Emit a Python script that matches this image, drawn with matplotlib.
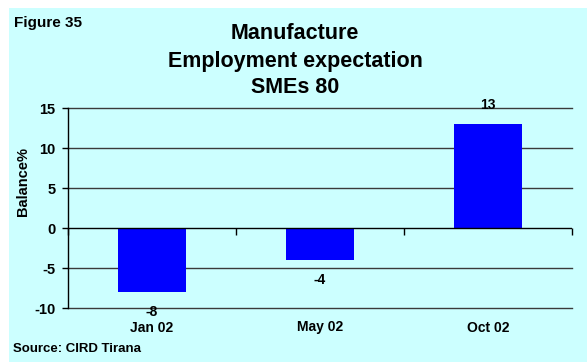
import matplotlib
matplotlib.use("Agg")
import matplotlib.pyplot as plt
import numpy as np
from matplotlib.patches import Rectangle
from matplotlib.lines import TICKDOWN

# ── Data ──────────────────────────────────────────────────────────────
periods = ["Jan 02", "May 02", "Oct 02"]
balance = [-8, -4, 13]
y_ticks = [-10, -5, 0, 5, 10, 15]
title_lines = ["Manufacture", "Employment expectation", "SMEs 80"]

BG = "#CCFFFF"
BAR = "#0000FF"

plt.rcParams["font.family"] = ["Liberation Sans", "DejaVu Sans"]
plt.rcParams["font.weight"] = "bold"
plt.rcParams["axes.unicode_minus"] = False

fig = plt.figure(figsize=(5.87, 3.62), dpi=100, facecolor="white")
# cyan chart area, leaving a thin white band on the top and left
fig.patches.append(Rectangle((9 / 587, 0), 1, 1 - 8 / 362, transform=fig.transFigure,
                             facecolor=BG, edgecolor="none", zorder=-10))

ax = fig.add_axes([68 / 587, 1 - 308 / 362, (572 - 68) / 587, 200 / 362])
ax.set_facecolor(BG)

x = np.arange(len(periods))
ax.bar(x, balance, width=0.405, color=BAR, zorder=3)

ax.set_xlim(-0.5, len(periods) - 0.5)
ax.set_ylim(y_ticks[0], y_ticks[-1])

# horizontal gridlines (including top and bottom edges)
for t in y_ticks:
    if t != 0:
        ax.axhline(t, color="#3a3a3a", lw=1.0, zorder=1, clip_on=False)
ax.axhline(0, color="black", lw=1.0, zorder=4)
# category separator ticks hanging off the zero line
bounds = np.arange(len(periods) + 1) - 0.5
ax.plot(bounds, np.zeros_like(bounds), linestyle="none", marker=TICKDOWN,
        markersize=5, markeredgewidth=1.0, color="black", zorder=4, clip_on=False)

for side in ["top", "right", "bottom"]:
    ax.spines[side].set_visible(False)
ax.spines["left"].set_color("black")
ax.spines["left"].set_linewidth(1.0)

ax.set_yticks(y_ticks)
ax.tick_params(axis="y", direction="out", length=4, width=1, pad=5, labelsize=10.5)
ax.set_xticks(x)
ax.set_xticklabels(periods)
ax.tick_params(axis="x", length=0, pad=9, labelsize=10)
for lbl in ax.get_xticklabels() + ax.get_yticklabels():
    lbl.set_fontweight("bold")

ax.set_ylabel("Balance%", fontsize=10.5, fontweight="bold")
ax.yaxis.set_label_coords(-0.076, 0.635)

# value labels
for xi, v in zip(x, balance):
    off = 11 if v >= 0 else -17.5
    ax.annotate(f"{v}", (xi, v), xytext=(0, off), textcoords="offset points",
                ha="center", va="baseline", fontsize=10, fontweight="bold", zorder=5)

# titles and notes
baselines = [39.3, 66.7, 92.7]
for line, b in zip(title_lines, baselines):
    fig.text(295 / 587, 1 - b / 362, line, ha="center", va="baseline",
             fontsize=15.5, fontweight="bold")
fig.text(14 / 587, 1 - 26.7 / 362, "Figure 35", ha="left", va="baseline",
         fontsize=11, fontweight="bold")
fig.text(13 / 587, 1 - 352 / 362, "Source: CIRD Tirana", ha="left", va="baseline",
         fontsize=9.5, fontweight="bold")

fig.savefig("out.png", dpi=100, facecolor=fig.get_facecolor())
